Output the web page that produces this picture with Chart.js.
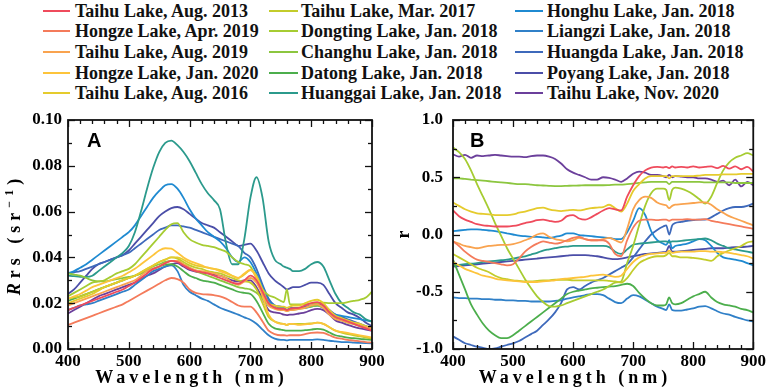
<!DOCTYPE html>
<html><head><meta charset="utf-8">
<script src="https://cdn.jsdelivr.net/npm/chart.js@4.4.1/dist/chart.umd.min.js"></script>
<style>
html,body{margin:0;padding:0;background:#fff;width:768px;height:388px;overflow:hidden;}
body{position:relative;}
canvas{position:absolute;left:0;top:0;}
.lg{position:absolute;height:20px;line-height:20px;font:bold 18px "Liberation Serif";color:#111;white-space:nowrap;}
.sw{position:absolute;height:2px;}
</style></head><body>
<div id="legend"></div>
<canvas id="chartA" width="768" height="388"></canvas>
<canvas id="chartB" width="768" height="388"></canvas>
<script>
// ---------------- DATA ----------------
const WAVELENGTHS = [400,410,420,430,440,450,460,470,480,490,
 500,510,520,530,540,550,560,570,580,590,
 600,610,620,630,640,650,660,670,680,690,
 700,710,720,730,740,750,755,760,765,770,
 780,790,800,810,820,830,840,850,860,870,
 880,890,900];

const LAKES = ["Taihu Lake, Aug. 2013","Hongze Lake, Apr. 2019","Taihu Lake, Aug. 2019","Hongze Lake, Jan. 2020","Taihu Lake, Aug. 2016",
 "Taihu Lake, Mar. 2017","Dongting Lake, Jan. 2018","Changhu Lake, Jan. 2018","Datong Lake, Jan. 2018","Huanggai Lake, Jan. 2018",
 "Honghu Lake, Jan. 2018","Liangzi Lake, Jan. 2018","Huangda Lake, Jan. 2018","Poyang Lake, Jan. 2018","Taihu Lake, Nov. 2020"];

const X_TICKS = [400,500,600,700,800,900];
const Y_TICKS_A = [0,0.02,0.04,0.06,0.08,0.10];
const Y_TICKS_B = [-1.0,-0.5,0.0,0.5,1.0];

// Panel A: Rrs (sr^-1)
const rrsTaihu2013 = [.017,.018,.019,.020,.021,.022,.023,.024,.025,.026,
 .0275,.029,.031,.033,.035,.036,.0375,.0385,.038,.0365,
 .035,.034,.0335,.033,.032,.031,.030,.029,.0285,.030,
 .032,.030,.025,.020,.018,.0175,.0175,.017,.0175,.0178,
 .018,.019,.020,.0205,.019,.016,.014,.013,.012,.011,
 .010,.009,.008];
const rrsHongzeApr2019 = [.0105,.0115,.0125,.0135,.0145,.0155,.0165,.0175,.0185,.0195,
 .021,.0225,.024,.0255,.027,.0285,.030,.031,.0305,.029,
 .026,.0245,.024,.0238,.0235,.023,.022,.0205,.019,.0185,
 .0185,.016,.012,.008,.0065,.006,.006,.0058,.006,.006,
 .006,.0065,.007,.0072,.007,.006,.005,.0045,.004,.0037,
 .0033,.003,.0028];
const rrsTaihuAug2019 = [.019,.020,.021,.022,.023,.024,.025,.026,.027,.028,
 .029,.030,.032,.034,.035,.036,.0375,.0385,.0385,.037,
 .0355,.0345,.034,.0335,.033,.032,.031,.029,.028,.0295,
 .031,.029,.024,.019,.0175,.017,.017,.0165,.017,.017,
 .0175,.018,.019,.0195,.018,.015,.013,.0125,.0115,.011,
 .010,.0095,.009];
const rrsHongzeJan2020 = [.022,.023,.024,.0255,.027,.028,.029,.030,.031,.032,
 .0335,.035,.037,.039,.041,.043,.044,.0438,.042,.040,
 .0385,.0375,.0365,.0355,.035,.034,.033,.032,.031,.033,
 .0345,.031,.023,.015,.012,.011,.011,.0105,.011,.011,
 .0105,.0108,.011,.0115,.011,.0095,.008,.0075,.007,.0065,
 .006,.0055,.005];
const rrsTaihuAug2016 = [.020,.021,.022,.023,.024,.0255,.027,.028,.029,.030,
 .031,.032,.0335,.035,.0365,.038,.039,.040,.040,.039,
 .0375,.0365,.036,.0355,.035,.0345,.0335,.032,.031,.0325,
 .0345,.032,.026,.020,.019,.0185,.0185,.018,.0185,.019,
 .019,.020,.021,.0215,.020,.017,.0145,.0135,.0125,.0115,
 .011,.010,.0095];
const rrsTaihuMar2017 = [.022,.0225,.023,.024,.025,.026,.027,.028,.029,.030,
 .031,.032,.0335,.035,.0365,.038,.039,.040,.0395,.038,
 .0365,.0355,.035,.034,.0335,.033,.032,.031,.030,.0295,
 .029,.026,.020,.014,.012,.0112,.011,.0105,.011,.011,
 .011,.011,.0112,.0115,.011,.0095,.008,.0072,.0065,.006,
 .0055,.005,.0045];
const rrsDongting = [.023,.0245,.026,.0275,.029,.0295,.030,.0315,.033,.034,
 .035,.037,.040,.043,.046,.049,.052,.0545,.055,.051,
 .048,.0465,.0455,.045,.0445,.0435,.0425,.040,.038,.037,
 .036,.031,.026,.0235,.0225,.021,.0205,.026,.0195,.0195,
 .0195,.0195,.0198,.020,.0202,.020,.020,.020,.0205,.021,
 .0215,.0225,.025];
const rrsChanghu = [.033,.0325,.032,.031,.030,.0295,.0295,.030,.0305,.031,
 .0315,.032,.033,.0345,.036,.037,.038,.0385,.0385,.037,
 .0355,.034,.033,.032,.031,.030,.029,.028,.027,.0265,
 .026,.0245,.022,.019,.018,.0175,.0175,.0168,.017,.0172,
 .0175,.018,.0185,.019,.018,.016,.0135,.0125,.0115,.011,
 .010,.0095,.009];
const rrsDatong = [.021,.022,.023,.024,.025,.026,.027,.028,.029,.030,
 .031,.032,.033,.034,.035,.036,.0368,.037,.036,.034,
 .032,.031,.030,.0295,.029,.028,.027,.026,.025,.0245,
 .024,.021,.016,.011,.009,.0085,.0082,.008,.008,.008,
 .008,.0082,.0085,.0088,.0085,.0072,.006,.0055,.005,.0047,
 .0044,.0042,.004];
const rrsHuanggai = [.032,.0318,.0315,.0315,.032,.034,.036,.038,.040,.042,
 .045,.051,.060,.070,.079,.086,.090,.091,.089,.086,
 .082,.077,.072,.068,.065,.061,.046,.037,.037,.048,
 .066,.075,.066,.047,.039,.037,.036,.0355,.035,.034,
 .034,.035,.037,.038,.036,.030,.024,.020,.018,.016,
 .015,.013,.012];
const rrsHonghu = [.033,.034,.0355,.037,.039,.041,.043,.045,.047,.049,
 .051,.054,.058,.062,.066,.069,.0715,.072,.070,.066,
 .061,.057,.054,.051,.049,.047,.044,.040,.038,.040,
 .038,.033,.027,.021,.019,.0185,.018,.017,.018,.018,
 .018,.018,.0185,.019,.018,.016,.015,.0145,.014,.0135,
 .013,.0125,.012];
const rrsLiangzi = [.017,.018,.019,.0195,.020,.021,.022,.023,.024,.025,
 .026,.028,.030,.032,.034,.035,.036,.0365,.034,.028,
 .025,.0235,.022,.021,.0195,.018,.017,.016,.015,.0138,
 .0128,.011,.0085,.006,.0045,.004,.004,.0038,.004,.004,
 .004,.004,.004,.0042,.004,.0036,.0033,.003,.003,.0028,
 .0027,.0026,.0025];
const rrsHuangda = [.033,.0335,.034,.035,.036,.037,.038,.039,.040,.041,
 .042,.044,.046,.048,.050,.052,.053,.054,.054,.0535,
 .053,.052,.051,.050,.049,.048,.047,.046,.045,.042,
 .040,.035,.028,.022,.019,.018,.018,.017,.0175,.018,
 .018,.0185,.019,.0195,.019,.017,.015,.014,.013,.012,
 .011,.010,.009];
const rrsPoyang = [.024,.026,.029,.032,.035,.037,.038,.039,.040,.041,
 .043,.046,.049,.052,.055,.058,.060,.0615,.062,.061,
 .059,.057,.055,.054,.053,.051,.049,.047,.045,.0455,
 .046,.043,.038,.033,.030,.028,.027,.026,.0265,.027,
 .027,.028,.029,.029,.028,.024,.020,.018,.016,.015,
 .0135,.0115,.010];
const rrsTaihuNov2020 = [.0155,.017,.0185,.020,.0215,.023,.024,.025,.026,.027,
 .028,.029,.0305,.032,.033,.0345,.036,.037,.0375,.036,
 .0345,.0338,.0335,.033,.0325,.032,.031,.030,.0295,.030,
 .030,.027,.022,.017,.016,.0155,.015,.0148,.015,.015,
 .0155,.016,.017,.0175,.017,.015,.0125,.0115,.0105,.0097,
 .009,.0085,.008];

// Panel B: correlation r
const rTaihu2013 = [.21,.16,.13,.11,.09,.08,.075,.07,.07,.07,
 .075,.085,.10,.11,.125,.13,.12,.11,.12,.16,
 .17,.14,.13,.15,.18,.21,.23,.22,.21,.33,
 .43,.51,.56,.585,.59,.585,.59,.58,.595,.585,
 .59,.585,.595,.585,.59,.595,.58,.60,.575,.595,
 .57,.59,.55];
const rHongzeApr2019 = [-.06,-.10,-.15,-.19,-.22,-.23,-.24,-.25,-.26,-.27,
 -.26,-.21,-.15,-.11,-.08,-.06,-.07,-.08,-.07,-.05,
 -.03,-.02,-.04,-.05,-.05,-.05,-.08,-.17,-.19,-.05,
 .06,.12,.13,.13,.125,.13,.13,.12,.13,.13,
 .13,.135,.13,.13,.135,.12,.11,.10,.09,.08,
 .07,.06,.05];
const rTaihuAug2019 = [-.06,-.08,-.10,-.11,-.12,-.11,-.10,-.095,-.09,-.09,
 -.085,-.07,-.05,-.03,.0,.01,-.02,-.04,-.05,-.06,
 -.05,-.03,-.04,-.05,-.05,-.04,-.03,-.05,-.07,.05,
 .22,.30,.33,.32,.28,.26,.255,.23,.25,.26,
 .265,.27,.275,.28,.28,.26,.22,.19,.16,.14,
 .12,.10,.08];
const rHongzeJan2020 = [-.24,-.27,-.30,-.32,-.34,-.36,-.37,-.385,-.395,-.40,
 -.405,-.41,-.415,-.415,-.415,-.41,-.405,-.40,-.39,-.385,
 -.38,-.375,-.37,-.36,-.355,-.35,-.36,-.37,-.36,-.30,
 -.24,-.20,-.18,-.17,-.165,-.16,-.16,-.14,-.16,-.155,
 -.15,-.15,-.15,-.145,-.145,-.15,-.15,-.155,-.16,-.17,
 -.18,-.19,-.21];
const rTaihuAug2016 = [.28,.25,.22,.20,.185,.18,.175,.17,.17,.17,
 .175,.19,.20,.215,.23,.235,.22,.21,.205,.21,
 .215,.21,.22,.23,.235,.24,.26,.23,.20,.27,
 .38,.44,.49,.51,.51,.51,.51,.49,.51,.51,
 .51,.51,.51,.515,.52,.52,.52,.525,.525,.525,
 .53,.53,.53];
const rTaihuMar2017 = [-.17,-.20,-.23,-.26,-.29,-.31,-.33,-.36,-.38,-.39,
 -.40,-.405,-.41,-.41,-.405,-.40,-.40,-.395,-.395,-.395,
 -.40,-.40,-.40,-.40,-.40,-.40,-.405,-.41,-.42,-.38,
 -.31,-.25,-.22,-.20,-.19,-.19,-.18,-.16,-.19,-.19,
 -.20,-.20,-.205,-.21,-.22,-.23,-.19,-.16,-.14,-.12,
 -.10,-.07,-.06];
const rDongting = [.76,.72,.66,.56,.44,.33,.22,.10,-.01,-.12,
 -.21,-.30,-.39,-.47,-.54,-.59,-.625,-.63,-.62,-.60,
 -.58,-.56,-.54,-.52,-.50,-.48,-.45,-.42,-.41,-.25,
 -.10,.08,.25,.36,.40,.40,.39,.30,.39,.41,
 .40,.38,.35,.31,.27,.33,.45,.56,.63,.67,
 .69,.71,.69];
const rChanghu = [.49,.49,.485,.48,.475,.47,.465,.46,.455,.45,
 .445,.44,.44,.435,.43,.428,.425,.423,.423,.425,
 .427,.428,.43,.43,.43,.43,.432,.435,.435,.44,
 .445,.45,.455,.46,.46,.46,.46,.44,.46,.46,
 .46,.46,.46,.46,.455,.455,.455,.455,.455,.45,
 .45,.45,.45];
const rDatong = [-.22,-.35,-.48,-.61,-.70,-.78,-.84,-.88,-.905,-.905,
 -.88,-.84,-.80,-.76,-.72,-.68,-.64,-.60,-.56,-.52,
 -.50,-.49,-.48,-.47,-.465,-.46,-.455,-.45,-.44,-.43,
 -.45,-.51,-.56,-.60,-.62,-.62,-.61,-.55,-.60,-.61,
 -.60,-.57,-.54,-.52,-.50,-.55,-.59,-.61,-.62,-.63,
 -.65,-.66,-.68];
const rHuanggai = [-.27,-.265,-.26,-.255,-.25,-.24,-.235,-.23,-.225,-.22,
 -.21,-.20,-.19,-.175,-.16,-.14,-.13,-.12,-.11,-.105,
 -.10,-.10,-.10,-.10,-.10,-.10,-.11,-.15,-.17,-.13,
 -.09,-.08,-.075,-.07,-.065,-.06,-.06,-.07,-.06,-.06,
 -.055,-.05,-.045,-.04,-.035,-.05,-.08,-.10,-.12,-.13,
 -.14,-.15,-.16];
const rHonghu = [.03,.035,.04,.045,.045,.04,.035,.03,.02,.01,
 .0,-.01,-.015,-.02,-.02,-.025,-.03,-.02,-.01,.01,
 .01,-.005,-.01,-.015,-.02,-.025,-.03,-.04,-.04,.02,
 .12,.23,.17,.03,-.05,-.08,-.09,-.05,-.12,-.10,
 -.09,-.08,-.06,-.04,-.05,-.10,-.16,-.20,-.21,-.22,
 -.23,-.25,-.27];
const rLiangzi = [-.55,-.555,-.555,-.56,-.56,-.565,-.565,-.57,-.57,-.575,
 -.575,-.58,-.58,-.585,-.585,-.585,-.585,-.58,-.575,-.56,
 -.55,-.54,-.53,-.52,-.52,-.53,-.56,-.59,-.60,-.56,
 -.53,-.54,-.57,-.60,-.63,-.65,-.66,-.61,-.66,-.665,
 -.665,-.655,-.645,-.63,-.625,-.645,-.67,-.69,-.70,-.72,
 -.735,-.75,-.76];
const rHuangda = [-.89,-.92,-.95,-.965,-.98,-.99,-1.0,-.995,-.98,-.965,
 -.95,-.93,-.90,-.87,-.84,-.79,-.74,-.68,-.60,-.48,
 -.46,-.48,-.45,-.42,-.40,-.38,-.35,-.32,-.29,-.26,
 -.20,-.13,-.06,.0,.04,.07,.08,.0,.08,.10,
 .11,.12,.125,.13,.13,.15,.18,.21,.23,.24,
 .24,.25,.27];
const rPoyang = [-.28,-.275,-.27,-.265,-.26,-.255,-.25,-.245,-.24,-.235,
 -.23,-.225,-.22,-.215,-.21,-.205,-.20,-.195,-.19,-.185,
 -.18,-.18,-.18,-.185,-.19,-.20,-.21,-.215,-.21,-.20,
 -.19,-.18,-.17,-.165,-.16,-.155,-.15,-.10,-.15,-.15,
 -.145,-.14,-.135,-.13,-.125,-.12,-.12,-.12,-.115,-.11,
 -.11,-.105,-.10];
const rTaihuNov2020 = [.70,.68,.695,.67,.69,.685,.69,.695,.69,.685,
 .68,.68,.675,.685,.69,.69,.68,.66,.62,.57,
 .54,.52,.50,.48,.48,.50,.495,.48,.46,.49,
 .53,.55,.54,.52,.52,.51,.50,.52,.50,.51,
 .505,.50,.50,.49,.49,.48,.46,.47,.43,.48,
 .42,.46,.43];

const SERIES_A = [rrsTaihu2013,rrsHongzeApr2019,rrsTaihuAug2019,rrsHongzeJan2020,rrsTaihuAug2016,
 rrsTaihuMar2017,rrsDongting,rrsChanghu,rrsDatong,rrsHuanggai,
 rrsHonghu,rrsLiangzi,rrsHuangda,rrsPoyang,rrsTaihuNov2020];
const SERIES_B = [rTaihu2013,rHongzeApr2019,rTaihuAug2019,rHongzeJan2020,rTaihuAug2016,
 rTaihuMar2017,rDongting,rChanghu,rDatong,rHuanggai,
 rHonghu,rLiangzi,rHuangda,rPoyang,rTaihuNov2020];

// ---------------- STYLE ----------------
const COLORS = ['#ef4b5c','#f47b5b','#f9a34f','#fdc43b','#e5cb2d','#c3cc2b','#a6cc32','#8cc63f','#4cae4c','#2b9a8c',
 '#1f8ad1','#3080c8','#3e69bb','#4b4ea8','#6b3f9b'];
const SERIF = '"Liberation Serif", "Times New Roman", serif';

// legend (HTML)
(function(){
  const lg = document.getElementById('legend');
  const cols = [{l0:43,l1:70,t:75},{l0:269,l1:298,t:301},{l0:515,l1:543,t:547}];
  LAKES.forEach((name,i)=>{
    const c = cols[Math.floor(i/5)], row = i%5;
    const cy = 10.5 + row*20.7;
    const sw = document.createElement('div');
    sw.className='sw'; sw.style.left=c.l0+'px'; sw.style.width=(c.l1-c.l0)+'px';
    sw.style.top=(cy-1)+'px'; sw.style.background=COLORS[i];
    lg.appendChild(sw);
    const t = document.createElement('div');
    t.className='lg'; t.style.left=c.t+'px'; t.style.top=(cy-10)+'px'; t.textContent=name;
    lg.appendChild(t);
  });
})();

const framePlugin = {
  id:'frame',
  afterDatasetsDraw(chart, args, o){
    const {ctx, chartArea:{left,right,top,bottom}, scales:{x,y}} = chart;
    ctx.save();
    ctx.strokeStyle='#111'; ctx.lineWidth=1.3; ctx.lineCap='butt';
    const seg=(a,b,c,d)=>{ctx.beginPath();ctx.moveTo(a,b);ctx.lineTo(c,d);ctx.stroke();};
    for(let v=o.xMin; v<=o.xMax+1e-9; v+=o.xMinor){
      const px = Math.round(x.getPixelForValue(v))+0.5;
      const q=(v-o.xMin)/o.xMajor, major=Math.abs(q-Math.round(q))<1e-6;
      const L = major?7:4;
      seg(px,bottom,px,bottom-L); seg(px,top,px,top+L);
    }
    for(let k=0; ; k++){
      const v = o.yMin + k*o.yMinor; if(v>o.yMax+1e-9) break;
      const py = Math.round(y.getPixelForValue(v))+0.5;
      const q=(v-o.yMin)/o.yMajor, major=Math.abs(q-Math.round(q))<1e-6;
      const L = major?7:4;
      seg(left,py,left+L,py); seg(right,py,right-L,py);
    }
    ctx.lineWidth=1.8; ctx.strokeStyle='#111';
    ctx.strokeRect(left,top,right-left,bottom-top);
    // panel letter
    ctx.fillStyle='#000'; ctx.font='bold 20px "Liberation Sans", Arial, sans-serif';
    ctx.textAlign='left'; ctx.textBaseline='alphabetic';
    ctx.fillText(o.letter, left+o.letterDx, top+27);
    // x title (centred under 600 nm as in the reference)
    ctx.font='bold 18px '+SERIF; ctx.letterSpacing='4px'; ctx.textAlign='center';
    ctx.fillText('Wavelength (nm)', x.getPixelForValue(600)+2, 383);
    // y title
    ctx.save();
    ctx.translate(o.yTitleX, (top+bottom)/2);
    ctx.rotate(-Math.PI/2);
    ctx.letterSpacing = o.yTitleSpacing;
    const parts = o.yTitle;
    let total=0;
    parts.forEach(p=>{ctx.font=p.font; total+=ctx.measureText(p.t).width;});
    let cx=-total/2; ctx.textAlign='left';
    parts.forEach(p=>{ctx.font=p.font; ctx.fillText(p.t, cx, o.yTitleBase+(p.dy||0)); cx+=ctx.measureText(p.t).width;});
    ctx.restore();
    ctx.restore();
  }
};

function makeChart(id, series, yMin, yMax, yDigits, padLeft, padRight, yWidth, yPad, frameOpts){
  return new Chart(document.getElementById(id), {
    type:'line',
    data:{ datasets: series.map((s,i)=>({
      label: LAKES[i],
      data: WAVELENGTHS.map((w,j)=>({x:w, y:s[j]})),
      borderColor: COLORS[i], borderWidth:1.8, pointRadius:0,
      cubicInterpolationMode:'monotone', fill:false
    }))},
    options:{
      responsive:false, animation:false, devicePixelRatio:1,
      layout:{padding:{left:padLeft, right:padRight, top:120, bottom:0}},
      plugins:{legend:{display:false}, tooltip:{enabled:false}, frame: frameOpts},
      scales:{
        x:{type:'linear', min:400, max:900,
           afterBuildTicks(s){ s.ticks = X_TICKS.map(v=>({value:v})); },
           ticks:{color:'#000', font:{family:SERIF, size:17, weight:'bold'}, padding:2, maxRotation:0,
                  callback:(v)=>String(v)},
           grid:{display:false, drawTicks:false}, border:{display:false},
           afterFit(s){ s.height = 39; }},
        y:{type:'linear', min:yMin, max:yMax,
           afterBuildTicks(s){ s.ticks = (yDigits===2?Y_TICKS_A:Y_TICKS_B).map(v=>({value:v})); },
           ticks:{color:'#000', font:{family:SERIF, size:17, weight:'bold'}, padding:yPad,
                  callback:(v)=>Number(v).toFixed(yDigits)},
           grid:{display:false, drawTicks:false}, border:{display:false},
           afterFit(s){ s.width = yWidth; }}
      }
    },
    plugins:[framePlugin]
  });
}

makeChart('chartA', SERIES_A, 0, 0.10, 2, 0, 396, 68, 6, {
  xMin:400,xMax:900,xMinor:20,xMajor:100, yMin:0,yMax:0.1,yMinor:0.01,yMajor:0.02,
  letter:'A', letterDx:19, yTitleX:14, yTitleBase:6, yTitleSpacing:'5px',
  yTitle:[{t:'R',font:'italic bold 18px '+SERIF},{t:'rs (sr',font:'bold 18px '+SERIF},{t:'\u22121',font:'bold 12px '+SERIF,dy:-7},{t:')',font:'bold 18px '+SERIF}]
});
makeChart('chartB', SERIES_B, -1, 1, 1, 393, 14, 60, 10, {
  xMin:400,xMax:900,xMinor:20,xMajor:100, yMin:-1,yMax:1,yMinor:0.25,yMajor:0.5,
  letter:'B', letterDx:17, yTitleX:404, yTitleBase:5, yTitleSpacing:'0px',
  yTitle:[{t:'r',font:'bold 18px '+SERIF}]
});
</script>
</body></html>
